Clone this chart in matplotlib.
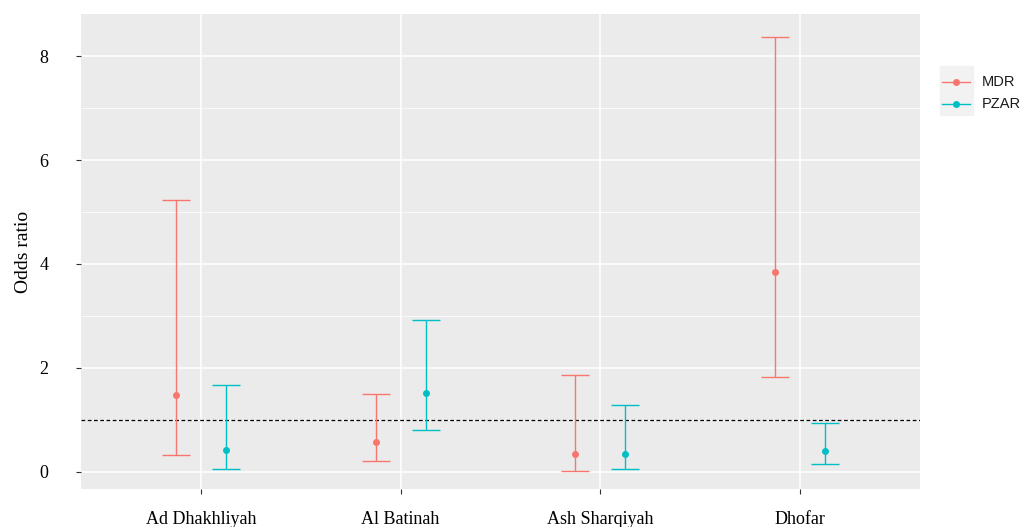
import matplotlib
matplotlib.use("Agg")
import matplotlib.pyplot as plt
from matplotlib.lines import Line2D
import numpy as np

categories = ["Ad Dhakhliyah", "Al Batinah", "Ash Sharqiyah", "Dhofar"]
series = ["MDR", "PZAR"]
colors = {"MDR": "#F8766D", "PZAR": "#00BFC4"}
mdr_or = [1.48, 0.58, 0.34, 3.84]
mdr_lo = [0.32, 0.20, 0.01, 1.82]
mdr_hi = [5.24, 1.50, 1.87, 8.37]
pzar_or = [0.43, 1.52, 0.34, 0.40]
pzar_lo = [0.06, 0.80, 0.06, 0.16]
pzar_hi = [1.67, 2.92, 1.29, 0.94]
data = {"MDR": (mdr_or, mdr_lo, mdr_hi), "PZAR": (pzar_or, pzar_lo, pzar_hi)}
yticks = [0, 2, 4, 6, 8]

W, H = 1028, 527
fig = plt.figure(figsize=(W/100, H/100), dpi=100)
ax = fig.add_axes([81/W, 38/H, (920-81)/W, (489-14)/H])
ax.set_facecolor("#EBEBEB")
for s in ax.spines.values():
    s.set_visible(False)

x = np.arange(1, len(categories) + 1)
offsets = {"MDR": -0.125, "PZAR": 0.125}
for s in series:
    o, lo, hi = data[s]
    o = np.array(o); lo = np.array(lo); hi = np.array(hi)
    ax.errorbar(x + offsets[s], o, yerr=[o - lo, hi - o], fmt="o", color=colors[s],
                ms=4, elinewidth=1.0, capsize=10, capthick=1.0, zorder=3)

ax.axhline(1, color="black", ls=(0, (3, 2)), lw=0.9, zorder=2)

ax.set_xlim(0.4, 4.6)
ax.set_ylim(-0.33, 8.81)
ax.set_xticks(x)
ax.set_xticklabels(categories)
ax.set_yticks(yticks)
ax.set_yticks([1, 3, 5, 7], minor=True)
ax.grid(True, which="major", color="white", lw=1.1)
ax.grid(True, which="minor", axis="y", color="white", lw=0.55)
ax.set_axisbelow(True)
ax.tick_params(axis="both", which="major", length=3.5, width=0.8, color="#333333",
               labelsize=13, labelcolor="black", pad=12)
ax.tick_params(axis="y", which="minor", length=0)
for lbl in ax.get_xticklabels() + ax.get_yticklabels():
    lbl.set_fontfamily("Liberation Serif")
ax.tick_params(axis="y", pad=20)
ax.set_ylabel("Odds ratio", fontfamily="Liberation Serif", fontsize=14, labelpad=5)

# legend drawn manually in figure pixel coordinates
fig.patches.append(plt.Rectangle((940/W, 1 - 115/H), 33/W, 49/H,
                                 transform=fig.transFigure, color="#F2F2F2", zorder=0))
for i, s in enumerate(series):
    yc = 1 - (82 + 22 * i)/H
    fig.add_artist(Line2D([942/W, 970/W], [yc, yc], transform=fig.transFigure,
                          color=colors[s], lw=1.0))
    fig.add_artist(Line2D([956/W], [yc], transform=fig.transFigure, color=colors[s],
                          marker="o", ms=4, lw=0))
    fig.text(982/W, yc, s, fontfamily="Liberation Sans", fontsize=10.5, va="center",
             ha="left", color="#1a1a1a")

fig.savefig("out.png", dpi=100)
